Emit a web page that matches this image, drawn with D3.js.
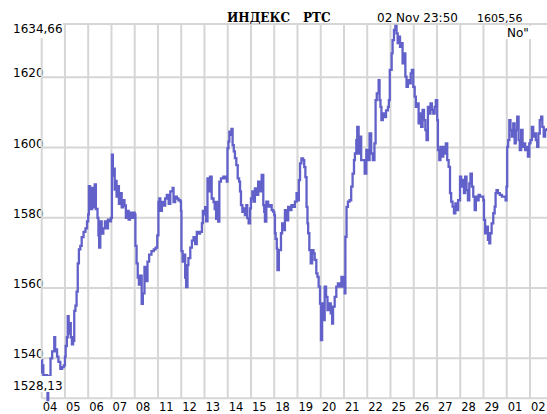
<!DOCTYPE html>
<html><head><meta charset="utf-8">
<script src="https://cdn.jsdelivr.net/npm/d3@7"></script>
<style>html,body{margin:0;padding:0;background:#fff;}svg{display:block;}</style>
</head><body>
<svg id="c" width="547" height="414"></svg>
<script>
const dayLabels = ["04","05","06","07","08","11","12","13","14","15","18","19","20","21","22","25","26","27","28","29","01","02"];
const yTicks = [1540, 1560, 1580, 1600, 1620];
const yMin = 1528.13, yMax = 1634.66;
const yMinLabel = "1528,13", yMaxLabel = "1634,66";
const titleName = "ИНДЕКС", titleIndex = "РТС";
const stampText = "02 Nov 23:50", lastText = "1605,56", monthText = "No\"";

// time in trading-day units (day i starts at i), value of the index
const times = [
0.00,0.02,0.04,0.07,0.15,0.22,0.25,0.28,0.36,0.38,0.45,0.54,0.58,0.62,0.66,0.72,0.80,0.88,0.95,
1.00,1.03,1.08,1.12,1.16,1.20,1.25,1.30,1.35,1.40,1.45,1.50,1.55,1.60,1.66,1.72,1.80,1.88,1.95,
2.00,2.03,2.08,2.12,2.17,2.22,2.28,2.33,2.40,2.44,2.47,2.52,2.58,2.65,2.72,2.78,2.85,2.92,2.98,
3.02,3.06,3.10,3.14,3.18,3.22,3.27,3.32,3.38,3.44,3.50,3.56,3.62,3.68,3.74,3.80,3.88,3.95,
4.00,4.03,4.08,4.13,4.18,4.22,4.30,4.35,4.42,4.48,4.55,4.62,4.72,4.82,4.90,4.97,
5.02,5.06,5.10,5.17,5.25,5.31,5.38,5.46,5.53,5.63,5.67,5.74,5.81,5.88,5.96,5.99,
6.01,6.06,6.11,6.17,6.21,6.27,6.31,6.39,6.46,6.53,6.60,6.67,6.74,6.81,6.89,6.93,
6.99,7.03,7.07,7.13,7.17,7.24,7.31,7.39,7.44,7.50,7.54,7.59,7.64,7.71,7.81,7.91,7.96,
7.99,8.03,8.07,8.11,8.16,8.21,8.26,8.31,8.37,8.43,8.49,8.53,8.57,8.63,8.69,8.74,8.80,8.84,8.90,8.96,
9.00,9.06,9.11,9.17,9.24,9.31,9.39,9.46,9.53,9.57,9.60,9.66,9.74,9.81,9.89,9.96,
10.00,10.03,10.06,10.11,10.14,10.20,10.29,10.34,10.41,10.46,10.53,10.60,10.67,10.74,10.81,10.89,10.96,
11.03,11.06,11.11,11.17,11.24,11.29,11.34,11.39,11.43,11.46,11.51,11.57,11.63,11.69,11.74,11.81,11.86,11.91,11.97,
12.01,12.06,12.11,12.17,12.23,12.29,12.34,12.43,12.49,12.53,12.60,12.67,12.74,12.81,12.89,12.97,
13.03,13.06,13.11,13.17,13.24,13.31,13.37,13.43,13.47,13.53,13.57,13.63,13.69,13.74,13.81,13.89,13.96,
14.03,14.10,14.17,14.24,14.31,14.36,14.41,14.49,14.53,14.57,14.61,14.67,14.74,14.81,14.89,14.93,14.97,
15.05,15.09,15.15,15.21,15.26,15.31,15.35,15.41,15.46,15.52,15.58,15.64,15.69,15.75,15.81,15.87,15.92,15.98,
16.04,16.09,16.15,16.21,16.27,16.32,16.38,16.44,16.50,16.55,16.61,16.67,16.72,16.78,16.84,16.90,16.95,17.01,
17.04,17.10,17.15,17.21,17.27,17.33,17.38,17.44,17.50,17.56,17.61,17.67,17.73,17.79,17.84,17.91,17.99,
18.04,18.10,18.16,18.21,18.27,18.33,18.39,18.44,18.50,18.56,18.62,18.67,18.73,18.79,18.85,18.92,18.99,
19.02,19.07,19.13,19.19,19.25,19.29,19.35,19.42,19.48,19.52,19.56,19.62,19.70,19.79,19.88,19.95,19.99,
20.02,20.06,20.11,20.16,20.22,20.28,20.34,20.39,20.45,20.51,20.56,20.62,20.68,20.74,20.79,20.85,20.91,20.97,
21.02,21.08,21.14,21.19,21.25,21.31,21.36,21.42,21.48,21.53,21.59,21.65,21.72
];
const values = [
1539.5,1536,1538,1535,1535.2,1534.8,1528.13,1535,1535,1540,1542,1546,1542,1542.5,1540.5,1539,1537,1537.5,1538,
1540.5,1543.5,1546,1552,1547,1550,1546,1544,1545,1553.5,1555,1559,1567,1571,1572,1574.5,1576,1577,1579,
1581,1589,1584,1582.5,1588.5,1583,1589.5,1582.5,1580,1575,1571.5,1579,1575.5,1577,1579,1577,1579.5,1579,1580,
1598,1592,1594,1588,1590.5,1586,1589,1584,1587,1583,1585,1583.5,1580,1582,1579.5,1581.5,1580,1581.5,
1581,1572,1567,1563,1561,1563.5,1555.5,1558.5,1566,1562,1567.5,1569.5,1570.5,1571,1571.5,1575,
1584.5,1585.5,1582,1584.5,1583.5,1585.5,1586.5,1584,1587.5,1588.5,1584.5,1586,1585.5,1585,1584.7,1582,
1570.5,1567.5,1569.5,1563,1560.3,1566.5,1568.5,1571.5,1573.5,1574.5,1572.5,1576,1575.5,1576,1578.5,1582,
1581,1583,1579,1591.2,1587.5,1591.7,1585.5,1584.5,1582.5,1579.7,1584.5,1578.9,1590.3,1591.2,1591.7,1591.2,1590.3,
1599.8,1601.7,1604.5,1603.6,1605.3,1600.7,1598.9,1597,1595,1591.2,1590.3,1587.5,1583.6,1581.7,1582.7,1580.8,1583.6,1579.9,1578.4,1582.7,
1585.5,1587.5,1584.6,1588.4,1586.5,1590.3,1587.5,1592.2,1583.6,1581.7,1578.9,1584.6,1583.2,1583.6,1582.2,1581.7,
1580.8,1575.6,1574,1571.2,1565.1,1570.8,1575.6,1578.4,1576.5,1582.2,1579.3,1583.1,1582.2,1583.6,1583.1,1584.6,1587,
1585,1590.7,1595.5,1596.9,1596.4,1594.4,1591.6,1583.1,1578.4,1575.6,1570.8,1567,1570.8,1569.9,1568,1564.2,1563.2,1560.4,1555.6,
1545.2,1555.6,1550.9,1560.4,1557.5,1553.7,1555.6,1552.8,1549.9,1554.7,1557.5,1560.4,1561.3,1560.4,1563.2,1560.4,
1558.5,1574.6,1583.1,1584.6,1585,1588.9,1592.6,1596.4,1598.3,1602.1,1605.9,1598.3,1603.1,1596.4,1596.4,1592.6,1599.3,
1596.4,1604,1598.3,1596.4,1601.2,1613.5,1615.4,1619.2,1613.5,1611.6,1607.8,1609.7,1608.7,1610.6,1611.6,1613.5,1622.1,
1626.8,1630.6,1633.5,1634.66,1632.5,1629.7,1631.6,1628.7,1629.7,1624,1626.8,1620.2,1617.3,1619.2,1618.3,1621.1,1622.1,1617.3,
1614.5,1611.6,1612.6,1606.9,1609.7,1605.9,1610.7,1607.8,1605,1602.1,1611.6,1609.7,1612.6,1610.7,1609.7,1611.6,1613.5,1607.8,
1599.3,1596.4,1600.2,1597.4,1600.2,1598.3,1601.2,1596.4,1594.5,1587,1584.6,1583.2,1581.3,1584.1,1582.2,1585,1591.7,
1588.9,1590.8,1587,1591.7,1587.9,1585,1589.8,1592.6,1588.9,1586,1582.2,1586,1585,1586.5,1586,1586,1585,
1579.4,1575.6,1577.5,1573.7,1572.7,1575.6,1578.4,1581.3,1583.2,1587,1587.9,1587,1586.5,1586,1586,1585,1588.9,
1600.2,1602.1,1607.8,1605,1603.1,1606.9,1601.2,1605,1608.8,1602.1,1599.3,1605,1600.2,1601.2,1599.3,1600.2,1597.4,1601.2,
1602.1,1605.9,1603.1,1604,1602.1,1600.2,1604,1607.8,1608.8,1605.9,1603.1,1605,1605.56
];

const W = 547, H = 414;
const plotLeft = 41.7, plotTop = 24, plotBottom = 398.3;
const svg = d3.select("#c");
const x = d3.scaleLinear().domain([0, dayLabels.length - 1]).range([plotLeft, 530]);
const y = d3.scaleLinear().domain([yMin, yMax]).range([400, 25.8]);

const font = "'DejaVu Sans', sans-serif";
const gridColor = "#d6d6d6";

// y tick labels (drawn beneath grid)
svg.append("g").selectAll("text").data(yTicks).join("text")
  .attr("x", 13).attr("y", d => y(d))
  .attr("font-family", font).attr("font-size", 12).attr("fill", "#000")
  .text(d => d);

// grid
const g = svg.append("g").attr("stroke", gridColor).attr("stroke-width", 2);
g.selectAll("line.v").data(d3.range(dayLabels.length)).join("line")
  .attr("x1", d => x(d)).attr("x2", d => x(d))
  .attr("y1", plotTop).attr("y2", plotBottom);
g.selectAll("line.h").data(yTicks).join("line")
  .attr("x1", plotLeft).attr("x2", W)
  .attr("y1", d => y(d)).attr("y2", d => y(d));
g.append("line").attr("x1", plotLeft).attr("x2", W).attr("y1", plotTop).attr("y2", plotTop);
g.append("line").attr("x1", plotLeft).attr("x2", W).attr("y1", plotBottom).attr("y2", plotBottom);

// series
const pts = times.map((t, i) => [t, values[i]]);
const line = d3.line().x(d => x(d[0])).y(d => y(d[1])).curve(d3.curveStepAfter);
svg.append("path").datum(pts)
  .attr("d", line).attr("fill", "none")
  .attr("stroke", "#6161c9").attr("stroke-width", 2.3);

// min / max labels with white background
function boxed(txt, tx, ty, bx, by, bw, bh) {
  svg.append("rect").attr("x", bx).attr("y", by).attr("width", bw).attr("height", bh).attr("fill", "#fff");
  svg.append("text").attr("x", tx).attr("y", ty)
    .attr("font-family", font).attr("font-size", 12).attr("fill", "#000").text(txt);
}
boxed(yMaxLabel, 13, 33, 12, 20, 51, 18);
boxed(yMinLabel, 13, 390, 12, 376, 46, 16);
boxed(monthText, 507, 37, 505, 26, 28, 13);

// header
svg.append("text").attr("x", 227).attr("y", 22)
  .attr("font-family", "'DejaVu Serif', serif").attr("font-weight", "bold").attr("font-size", 12)
  .text(titleName);
svg.append("text").attr("x", 303).attr("y", 22)
  .attr("font-family", "'DejaVu Serif', serif").attr("font-weight", "bold").attr("font-size", 12)
  .text(titleIndex);
svg.append("text").attr("x", 377).attr("y", 22)
  .attr("font-family", font).attr("font-size", 12).text(stampText);
svg.append("text").attr("x", 477).attr("y", 22)
  .attr("font-family", font).attr("font-size", 11).text(lastText);

// x labels
svg.append("g").selectAll("text").data(dayLabels).join("text")
  .attr("x", (d, i) => x(i) + 1).attr("y", 411)
  .attr("font-family", font).attr("font-size", 11.5).attr("fill", "#000")
  .text(d => d);
</script>
</body></html>
